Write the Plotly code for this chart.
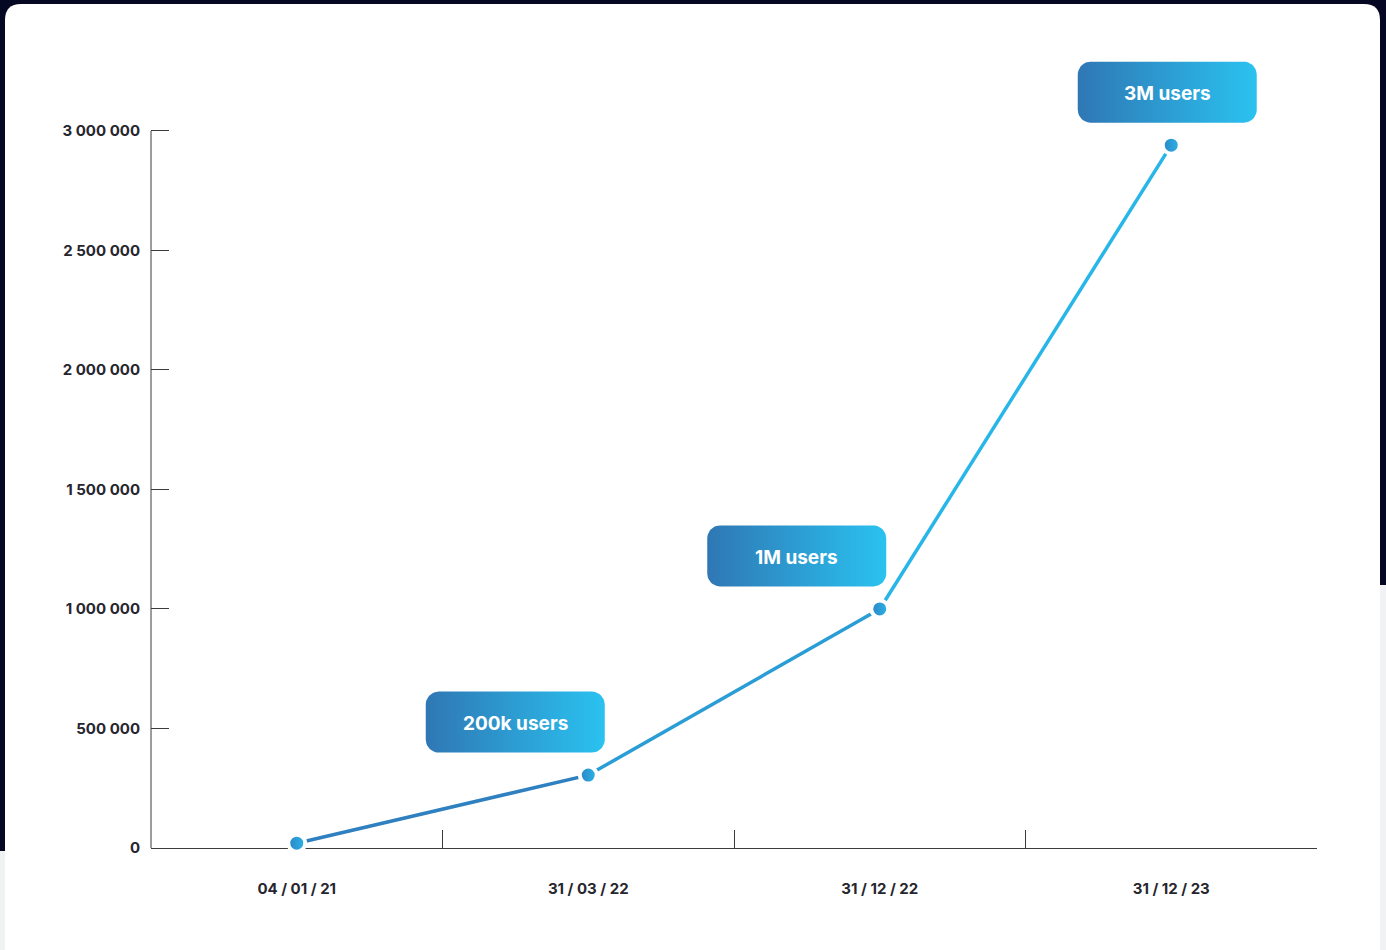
import plotly.graph_objects as go
import math

# ---------------- data ----------------
dates = ["04 / 01 / 21", "31 / 03 / 22", "31 / 12 / 22", "31 / 12 / 23"]
users = [20000, 305000, 1000000, 2940000]
y_tickvals = [0, 500000, 1000000, 1500000, 2000000, 2500000, 3000000]
y_ticktext = ["0", "500 000", "1 000 000", "1 500 000", "2 000 000", "2 500 000", "3 000 000"]
badge_text = ["200k users", "1M users", "3M users"]
badge_point = [1, 2, 3]          # index of the point each badge belongs to

# ---------------- styling / layout constants ----------------
W, H = 1386, 950
ML, MR, MT, MB = 151, 69, 40, 102
PW, PH = W - ML - MR, H - MT - MB
YMAX = 3_380_000
X_RANGE = [-0.5, 3.5]
PX_X = PW / (X_RANGE[1] - X_RANGE[0])   # pixels per x unit
PX_Y = PH / YMAX                          # pixels per y unit

seg_colors = ["#2e80c0", "#2b9dd6", "#28b6e8"]
badge_dx_px = [-73, -83, -4]     # badge centre offset from its point (px)
badge_dy_px = 53                 # badge centre above its point (px)
BW, BH, BR = 179, 61, 13         # badge size / corner radius (px)

fig = go.Figure()

# line segments (each segment its own shade to mimic the gradient)
for i in range(len(dates) - 1):
    fig.add_trace(go.Scatter(
        x=dates[i:i + 2], y=users[i:i + 2], mode="lines",
        line=dict(color=seg_colors[i], width=3.5),
        hoverinfo="skip", showlegend=False, cliponaxis=False))

# markers with white halo
fig.add_trace(go.Scatter(
    x=dates, y=users, mode="markers",
    marker=dict(size=17, color="#2c86c7",
                gradient=dict(type="horizontal", color="#2ab4e6"),
                line=dict(color="white", width=4)),
    showlegend=False, cliponaxis=False, hoverinfo="x+y"))


def rounded_rect(cx, cy):
    """Polygon (data units on x2/y) of a rounded rectangle centred at cx, cy."""
    hw, hh = BW / 2 / PX_X, BH / 2 / PX_Y
    rx, ry = BR / PX_X, BR / PX_Y
    corners = [(cx + hw - rx, cy + hh - ry, 0), (cx - hw + rx, cy + hh - ry, 90),
               (cx - hw + rx, cy - hh + ry, 180), (cx + hw - rx, cy - hh + ry, 270)]
    xs, ys = [], []
    for (ccx, ccy, a0) in corners:
        for k in range(11):
            a = math.radians(a0 + 9 * k)
            xs.append(ccx + rx * math.cos(a))
            ys.append(ccy + ry * math.sin(a))
    xs.append(xs[0]); ys.append(ys[0])
    return xs, ys


for txt, pi, dx in zip(badge_text, badge_point, badge_dx_px):
    cx = pi + dx / PX_X
    cy = users[pi] + badge_dy_px / PX_Y
    bx, by = rounded_rect(cx, cy)
    fig.add_trace(go.Scatter(
        x=bx, y=by, xaxis="x2", yaxis="y", mode="lines", fill="toself",
        line=dict(width=0, color="rgba(0,0,0,0)"),
        fillgradient=dict(type="horizontal",
                          colorscale=[[0, "#2f77b4"], [1, "#2ac2f0"]]),
        hoverinfo="skip", showlegend=False))
    fig.add_annotation(x=cx, y=cy, xref="x2", yref="y", text=txt, showarrow=False,
                       yshift=-1.5,
                       font=dict(family="Inter", size=19, color="white", weight=700))


def px2paper_x(px):
    return (px - ML) / PW


def px2paper_y(py):
    return (H - MB - py) / PH


# background card and edge strips
shapes = []
shapes.append(dict(type="rect", xref="paper", yref="paper",
                   x0=px2paper_x(0), x1=px2paper_x(5), y0=px2paper_y(950), y1=px2paper_y(851),
                   fillcolor="#f1f2f4", line=dict(width=0), layer="below"))
shapes.append(dict(type="rect", xref="paper", yref="paper",
                   x0=px2paper_x(1380), x1=px2paper_x(1386), y0=px2paper_y(950), y1=px2paper_y(585),
                   fillcolor="#f1f2f4", line=dict(width=0), layer="below"))
# white card with rounded top corners
cx0, cx1, cy0, cy1, r = 5, 1380, 4, 975, 16
path = (f"M {px2paper_x(cx0)},{px2paper_y(cy1)} "
        f"L {px2paper_x(cx0)},{px2paper_y(cy0 + r)} "
        f"Q {px2paper_x(cx0)},{px2paper_y(cy0)} {px2paper_x(cx0 + r)},{px2paper_y(cy0)} "
        f"L {px2paper_x(cx1 - r)},{px2paper_y(cy0)} "
        f"Q {px2paper_x(cx1)},{px2paper_y(cy0)} {px2paper_x(cx1)},{px2paper_y(cy0 + r)} "
        f"L {px2paper_x(cx1)},{px2paper_y(cy1)} Z")
shapes.append(dict(type="path", xref="paper", yref="paper", path=path,
                   fillcolor="white", line=dict(width=0), layer="below"))
# y axis line from 0 to the top tick only
shapes.append(dict(type="line", xref="paper", yref="y", x0=0, x1=0,
                   y0=y_tickvals[0], y1=y_tickvals[-1],
                   line=dict(color="#3a3a3f", width=1), layer="below"))

tick_font = dict(family="Inter", size=15, color="#26262e", weight=700)

fig.update_layout(
    width=W, height=H,
    margin=dict(l=ML, r=MR, t=MT, b=MB, autoexpand=False),
    paper_bgcolor="#060722",
    plot_bgcolor="white",
    shapes=shapes,
    xaxis=dict(type="category", range=X_RANGE, tickson="boundaries",
               ticks="inside", ticklen=18, tickcolor="#3a3a3f", tickwidth=1,
               showline=True, linecolor="#3a3a3f", linewidth=1,
               showgrid=False, zeroline=False, tickfont=tick_font,
               ticklabelstandoff=27, layer="below traces", fixedrange=True),
    xaxis2=dict(overlaying="x", range=X_RANGE, visible=False, fixedrange=True),
    yaxis=dict(range=[0, YMAX], tickvals=y_tickvals, ticktext=y_ticktext,
               ticks="inside", ticklen=18, tickcolor="#3a3a3f", tickwidth=1,
               showline=False, showgrid=False, zeroline=False, tickfont=tick_font,
               ticklabelstandoff=10, layer="below traces", fixedrange=True),
    font=dict(family="Inter"),
)

fig.write_html(
    "out.html",
    config={"displayModeBar": False},
    post_script="document.body.style.margin='0';document.body.style.overflow='hidden';"
                "document.body.style.background='#060722';",
)
